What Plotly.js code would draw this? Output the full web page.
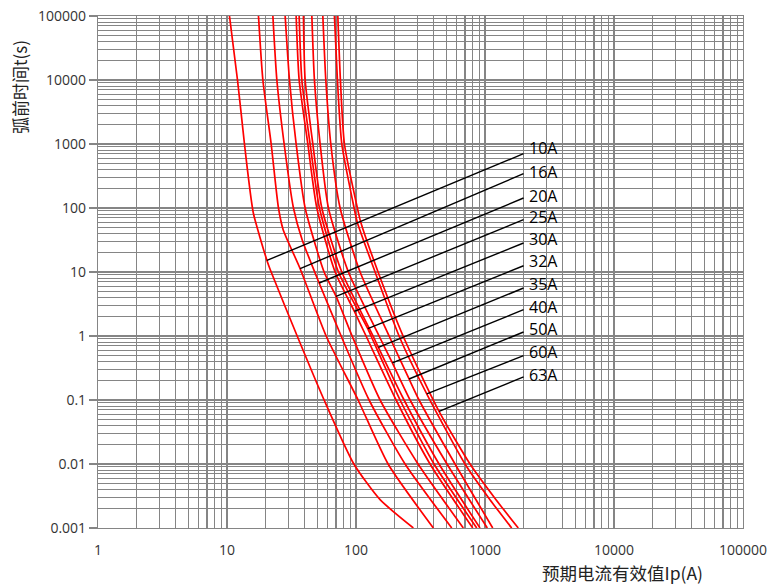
<!DOCTYPE html>
<html>
<head>
<meta charset="utf-8">
<script src="https://cdn.plot.ly/plotly-3.0.1.min.js"></script>
<style>html,body{margin:0;padding:0;background:#fff;}#chart{width:769px;height:584px;}</style>
</head>
<body>
<div id="chart"></div>
<script>
// ---- Data ----
const ratings = ['10A','16A','20A','25A','30A','32A','35A','40A','50A','60A','63A'];

const I_10A = [10.45, 12.06, 13.66, 14.3, 16.0, 20.4, 22.0, 35.0, 56.6, 96.2, 153.7, 278.4];
const t_10A = [100000, 10000, 1000, 447, 83.6, 15.18, 10, 1, 0.1, 0.01, 0.00277, 0.001];

const I_16A = [17.54, 18.97, 22.0, 25.06, 27.25, 36.9, 58.7, 103.8, 177.3, 397.7];
const t_16A = [100000, 10000, 1000, 100, 45.8, 11.26, 1, 0.1, 0.01, 0.001];

const I_20A = [22.68, 24.35, 27.74, 32.74, 38.23, 51.8, 76.7, 126.3, 240.1, 552.2];
const t_20A = [100000, 10000, 1000, 100, 32.0, 6.73, 1, 0.1, 0.01, 0.001];

const I_25A = [28.24, 30.50, 34.36, 40.34, 56.6, 70.1, 93.3, 153.7, 302.7, 679.1];
const t_25A = [100000, 10000, 1000, 100, 10, 4.16, 1, 0.1, 0.01, 0.001];

const I_30A = [34.36, 36.25, 42.33, 49.7, 68.9, 97.2, 119.7, 204.5, 374.9, 803.1];
const t_30A = [100000, 10000, 1000, 100, 10, 2.42, 1, 0.1, 0.01, 0.001];

const I_32A = [36.25, 38.03, 44.1, 52.07, 73.06, 123.4, 130.9, 219.6, 402.7, 862.5];
const t_32A = [100000, 10000, 1000, 100, 10, 1.30, 1, 0.1, 0.01, 0.001];

const I_35A = [39.14, 40.34, 46.28, 54.33, 77.6, 135.7, 149.1, 235.9, 440.3, 914.6];
const t_35A = [100000, 10000, 1000, 100, 10, 1, 0.664, 0.1, 0.01, 0.001];

const I_40A = [45.47, 47.62, 52.72, 61.13, 87.34, 151.0, 191.4, 262.5, 507.7, 1042];
const t_40A = [100000, 10000, 1000, 100, 10, 1, 0.379, 0.1, 0.01, 0.001];

const I_50A = [55.32, 58.34, 63.78, 75.3, 107.6, 180.5, 257.8, 308.2, 585.7, 1147.6];
const t_50A = [100000, 10000, 1000, 100, 10, 1, 0.213, 0.1, 0.01, 0.001];

const I_60A = [68.03, 71.77, 77.6, 96.7, 102.0, 140.6, 215.7, 353.4, 699.9, 1093, 1610];
const t_60A = [100000, 10000, 1000, 100, 61.1, 10, 1, 0.125, 0.01, 0.00277, 0.001];

const I_63A = [72.29, 75.7, 81.33, 102.5, 108.6, 148.3, 231.7, 440.3, 765.4, 1217, 1811];
const t_63A = [100000, 10000, 1000, 100, 61.1, 10, 1, 0.0664, 0.01, 0.00277, 0.001];

// leader lines: point on each curve, and the leader's start near its label
const leaderI = [20.4, 36.9, 51.8, 70.1, 97.2, 123.4, 149.1, 191.4, 257.8, 353.4, 440.3];
const leaderT = [15.18, 11.26, 6.73, 4.16, 2.42, 1.30, 0.664, 0.379, 0.213, 0.125, 0.0664];
const leaderStartI = 1990;
const leaderStartT = [704.8, 343.4, 143.3, 65.6, 28.4, 12.53, 5.62, 2.58, 1.155, 0.492, 0.229];
// label text positions (left edge, vertical centre)
const labelTextI = 2153;
const labelTextT = [866, 369, 155.6, 71.8, 33.1, 14.76, 6.56, 2.82, 1.277, 0.558, 0.248];

const xTickVals = [1, 10, 100, 1000, 10000, 100000];
const xTickText = ['1', '10', '100', '1000', '10000', '100000'];
const yTickVals = [0.001, 0.01, 0.1, 1, 10, 100, 1000, 10000, 100000];
const yTickText = ['0.001', '0.01', '0.1', '1', '10', '100', '1000', '10000', '100000'];

const xTitle = '预期电流有效值Ip(A)';
const yTitle = '弧前时间t(s)';

// ---- Build ----
const curvesI = [I_10A, I_16A, I_20A, I_25A, I_30A, I_32A, I_35A, I_40A, I_50A, I_60A, I_63A];
const curvesT = [t_10A, t_16A, t_20A, t_25A, t_30A, t_32A, t_35A, t_40A, t_50A, t_60A, t_63A];

function minorVals(lo, hi) {
  const out = [];
  for (let k = lo; k < hi; k++) {
    for (let d = 2; d <= 9; d++) out.push(Number((d * Math.pow(10, k)).toPrecision(3)));
  }
  return out;
}

const traces = [];
curvesI.forEach((xs, i) => {
  traces.push({
    type: 'scatter', mode: 'lines', name: ratings[i],
    x: xs, y: curvesT[i],
    line: {color: '#ff0000', width: 1.7, shape: 'spline', smoothing: 0.6},
    hoverinfo: 'skip', showlegend: false
  });
});

const lx = [], ly = [];
leaderI.forEach((v, i) => {
  lx.push(leaderStartI, v, null);
  ly.push(leaderStartT[i], leaderT[i], null);
});
traces.push({
  type: 'scatter', mode: 'lines', x: lx, y: ly,
  line: {color: '#000000', width: 1.4},
  hoverinfo: 'skip', showlegend: false
});

const annotations = ratings.map((r, i) => ({
  x: Math.log10(labelTextI), y: Math.log10(labelTextT[i]), xref: 'x', yref: 'y',
  text: r, showarrow: false, xanchor: 'left', yanchor: 'middle',
  borderpad: 0,
  font: {family: 'Open Sans, sans-serif', size: 16, color: '#000000'}
}));
annotations.push({
  xref: 'paper', yref: 'paper', x: 0.8136, y: -0.086,
  text: xTitle, showarrow: false, xanchor: 'center', yanchor: 'middle',
  font: {family: '"Noto Sans CJK SC", "Open Sans", sans-serif', size: 17.5, color: '#222222'}
});
annotations.push({
  xref: 'paper', yref: 'paper', x: -0.1228, y: 0.861,
  text: yTitle, showarrow: false, xanchor: 'center', yanchor: 'middle', textangle: -90,
  font: {family: '"Noto Sans CJK SC", "Open Sans", sans-serif', size: 17, color: '#222222'}
});

const gridColor = '#858585';
const layout = {
  width: 769, height: 584,
  margin: {l: 98, r: 26, t: 16, b: 56},
  paper_bgcolor: '#ffffff', plot_bgcolor: '#ffffff',
  font: {family: 'Open Sans, sans-serif', size: 14, color: '#333333'},
  showlegend: false,
  xaxis: {
    type: 'log', range: [0, 5],
    tickmode: 'array', tickvals: xTickVals, ticktext: xTickText,
    ticks: '', ticklabelstandoff: 9,
    showgrid: true, gridcolor: gridColor, gridwidth: 1.1,
    minor: {tickmode: 'array', tickvals: minorVals(0, 5), showgrid: true, gridcolor: gridColor, gridwidth: 1.1, ticks: ''},
    showline: true, linecolor: gridColor, linewidth: 1.1, mirror: true,
    zeroline: false, tickfont: {size: 14, color: '#333333'}
  },
  yaxis: {
    type: 'log', range: [-3, 5],
    tickmode: 'array', tickvals: yTickVals, ticktext: yTickText,
    ticks: 'outside', ticklen: 8, tickcolor: gridColor, tickwidth: 1.1,
    showgrid: true, gridcolor: gridColor, gridwidth: 1.1,
    minor: {tickmode: 'array', tickvals: minorVals(-3, 5), showgrid: true, gridcolor: gridColor, gridwidth: 1.1, ticks: ''},
    showline: true, linecolor: gridColor, linewidth: 1.1, mirror: true,
    zeroline: false, tickfont: {size: 14, color: '#333333'}
  },
  annotations: annotations
};

Plotly.newPlot('chart', traces, layout, {staticPlot: true, displayModeBar: false});
</script>
</body>
</html>
